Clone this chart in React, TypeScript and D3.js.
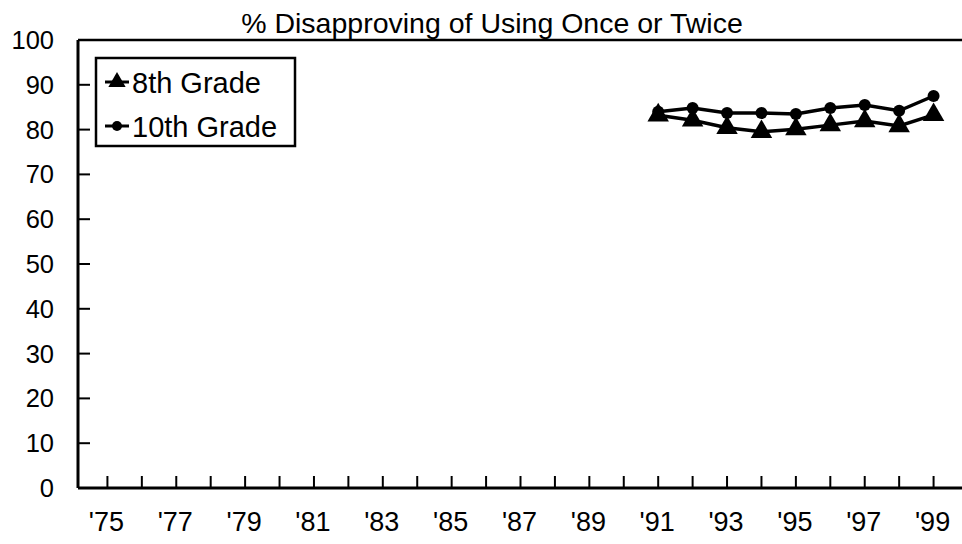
import * as d3 from 'd3';

const years = [1991, 1992, 1993, 1994, 1995, 1996, 1997, 1998, 1999];
const grade8 = [83.2, 82.1, 80.4, 79.5, 80.1, 81.0, 81.9, 80.8, 83.3];
const grade10 = [84.0, 84.8, 83.7, 83.7, 83.5, 84.8, 85.5, 84.2, 87.5];
const tickYears = d3.range(1975, 2000);
const yTicks = [0, 10, 20, 30, 40, 50, 60, 70, 80, 90, 100];
const title = '% Disapproving of Using Once or Twice';
const seriesNames = ['8th Grade', '10th Grade'];

const width = 962;
const height = 544;
const left = 78;
const font = '"Liberation Sans", Arial, Helvetica, sans-serif';

const App = () => {
  const x = d3.scaleLinear().domain([1974, 2000]).range([73, 968]);
  const y = d3.scaleLinear().domain([0, 100]).range([488, 40]);

  const line = d3.line<number>()
    .x((d, i) => x(years[i]))
    .y(d => y(d));
  const tri = d3.symbol(d3.symbolTriangle, 200)();
  const triSmall = d3.symbol(d3.symbolTriangle, 130)();

  return (
    <svg width={width} height={height} style={{ position: 'absolute', left: 0, top: 0 }}
      fontFamily={font}>
      <rect width={width} height={height} fill="white" />
      <text x={492} y={33} textAnchor="middle" fontSize={28.5}>{title}</text>

      {/* frame: top line, y axis, x axis */}
      <line x1={left} x2={width} y1={y(100)} y2={y(100)} stroke="black" strokeWidth={2.5} />
      <line x1={left} x2={left} y1={y(100)} y2={y(0)} stroke="black" strokeWidth={3} />
      <line x1={left} x2={width} y1={y(0)} y2={y(0)} stroke="black" strokeWidth={3} />

      {yTicks.map(t => (
        <g key={t}>
          {t > 0 && t < 100 && (
            <line x1={left} x2={left + 12} y1={y(t)} y2={y(t)} stroke="black" strokeWidth={2} />
          )}
          <text x={54} y={y(t)} dy="0.35em" textAnchor="end" fontSize={25.5}>{t}</text>
        </g>
      ))}

      {tickYears.map(t => (
        <g key={t}>
          <line x1={x(t)} x2={x(t)} y1={y(0)} y2={y(0) - 12} stroke="black" strokeWidth={2} />
          {t % 2 === 1 && (
            <text x={x(t) - 1} y={531} textAnchor="middle" fontSize={27}>
              {"'" + String(t).slice(2)}
            </text>
          )}
        </g>
      ))}

      <path d={line(grade10) || ''} fill="none" stroke="black" strokeWidth={3.5} />
      <path d={line(grade8) || ''} fill="none" stroke="black" strokeWidth={3.5} />
      {grade10.map((v, i) => (
        <circle key={'c' + i} cx={x(years[i])} cy={y(v)} r={6} fill="black" />
      ))}
      {grade8.map((v, i) => (
        <path key={'t' + i} d={tri || ''} transform={`translate(${x(years[i])},${y(v)})`} fill="black" />
      ))}

      {/* legend */}
      <rect x={96} y={58} width={199} height={88} fill="white" stroke="black" strokeWidth={2.5} />
      <line x1={105} x2={129} y1={82} y2={82} stroke="black" strokeWidth={3} />
      <path d={triSmall || ''} transform="translate(117,82)" fill="black" />
      <text x={132} y={93} fontSize={29}>{seriesNames[0]}</text>
      <line x1={105} x2={129} y1={126} y2={126} stroke="black" strokeWidth={3} />
      <circle cx={117} cy={126} r={5} fill="black" />
      <text x={132} y={137} fontSize={29}>{seriesNames[1]}</text>
    </svg>
  );
};

export default App;
